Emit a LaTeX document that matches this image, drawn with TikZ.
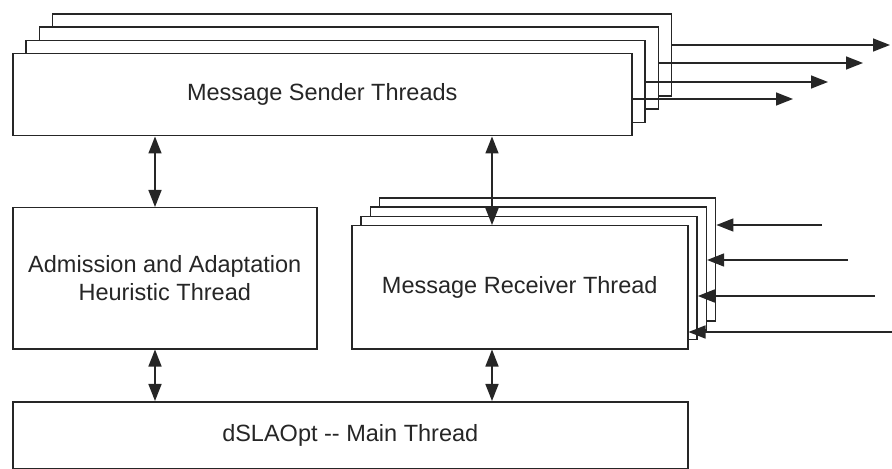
\documentclass[tikz,border=0pt]{standalone}
\usepackage{fontspec}
\setmainfont{Liberation Sans}
\usetikzlibrary{arrows.meta}

\definecolor{ink}{HTML}{262626}

\tikzset{
  tip/.tip={Triangle[length=17bp,width=13bp]},
  box/.style={draw=ink, fill=white, line width=1.5bp, inner sep=0pt,
              anchor=north west, text=ink,
              font=\fontsize{23.5bp}{28bp}\selectfont, align=center},
  link/.style={draw=ink, line width=1.5bp, -tip},
  dlink/.style={draw=ink, line width=1.5bp, tip-tip}
}

\begin{document}
\begin{tikzpicture}[x=1bp,y=-1bp]
\useasboundingbox (0,0) rectangle (892,469);

% stacked sender thread boxes (back to front)
\foreach \k in {3,2,1} {
  \node[box, minimum width=619bp, minimum height=82bp]
    (s\k) at (12+13.3*\k, 53-13.3*\k) {};
}
\node[box, minimum width=619bp, minimum height=82bp] (s0) at (12,53)
  {Message Sender Threads};

% outgoing messages, one per sender thread
\coordinate (o0) at (793,99);
\coordinate (o1) at (828,82);
\coordinate (o2) at (863,63);
\coordinate (o3) at (890,45);
\draw[link] (s3.east |- o3) -- (o3);
\draw[link] (s2.east |- o2) -- (o2);
\draw[link] (s1.east |- o1) -- (o1);
\draw[link] (s0.east |- o0) -- (o0);

% admission / adaptation heuristic
\node[box, minimum width=304bp, minimum height=141bp] (adm) at (12,207)
  {Admission and Adaptation\\Heuristic Thread};

% stacked receiver thread boxes (back to front)
\foreach \k in {3,2,1} {
  \node[box, minimum width=336bp, minimum height=123bp]
    (r\k) at (351+9.3*\k, 225-9.3*\k) {};
}
\node[box, minimum width=336bp, minimum height=123bp] (r0) at (351,225)
  {Message Receiver Thread};

% incoming messages, one per receiver box
\coordinate (i3) at (822,225);
\coordinate (i2) at (848,260);
\coordinate (i1) at (875,296);
\coordinate (i0) at (892,332);
\draw[link] (i3) -- (r3.east |- i3);
\draw[link] (i2) -- (r2.east |- i2);
\draw[link] (i1) -- (r1.east |- i1);
\draw[link] (i0) -- (r0.east |- i0);

% main thread
\node[box, minimum width=675bp, minimum height=67bp] (main) at (12,401)
  {dSLAOpt -{}- Main Thread};

% two-way links between threads
\coordinate (cl) at (155,0);
\coordinate (cr) at (492,0);
\draw[dlink] (s0.south -| cl) -- (adm.north -| cl);
\draw[dlink] (s0.south -| cr) -- (r0.north -| cr);
\draw[dlink] (adm.south -| cl) -- (main.north -| cl);
\draw[dlink] (r0.south -| cr) -- (main.north -| cr);
\end{tikzpicture}
\end{document}
